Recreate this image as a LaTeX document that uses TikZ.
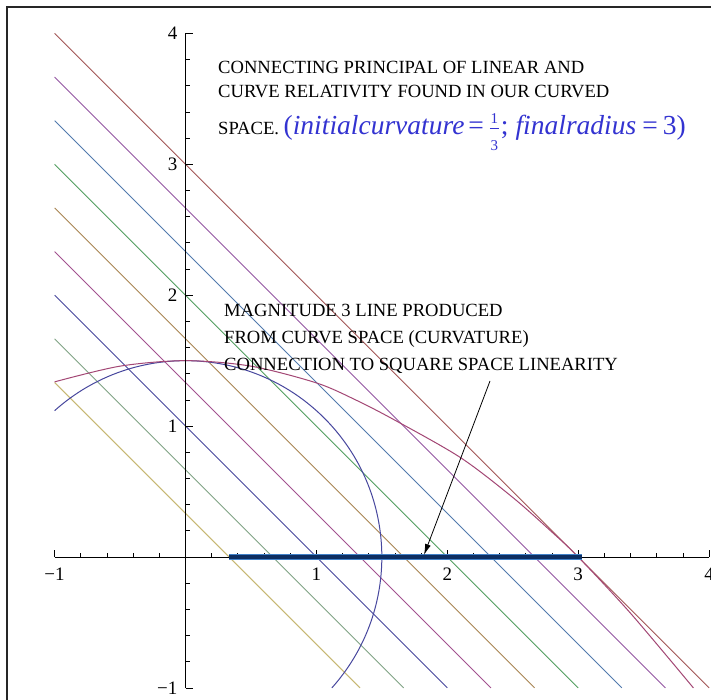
\documentclass[tikz,border=0pt]{standalone}
\usepackage{fontspec}
\setmainfont{Liberation Serif}[ItalicFont={Liberation Serif Italic}]
\usetikzlibrary{arrows.meta}
\definecolor{lnA}{rgb}{0.78,0.72,0.45}
\definecolor{lnB}{rgb}{0.50,0.64,0.52}
\definecolor{lnC}{rgb}{0.28,0.28,0.62}
\definecolor{lnD}{rgb}{0.64,0.32,0.56}
\definecolor{lnE}{rgb}{0.66,0.52,0.32}
\definecolor{lnF}{rgb}{0.32,0.62,0.38}
\definecolor{lnG}{rgb}{0.32,0.48,0.68}
\definecolor{lnH}{rgb}{0.58,0.34,0.64}
\definecolor{lnI}{rgb}{0.64,0.34,0.34}
\definecolor{rcol}{rgb}{0.64,0.28,0.46}
\definecolor{bcol}{rgb}{0.28,0.28,0.62}
\definecolor{mblue}{rgb}{0.2,0.2,0.82}
\definecolor{thickout}{rgb}{0.25,0.5,0.78}
\definecolor{thickin}{rgb}{0.05,0.18,0.38}
\newcommand{\handfrac}[2]{\makebox[9pt]{\rlap{\raisebox{11pt}{\makebox[9pt]{\fontsize{15}{15}\selectfont #1}}}\rlap{\raisebox{-16pt}{\makebox[9pt]{\fontsize{15}{15}\selectfont #2}}}\rule[6pt]{9pt}{0.8pt}}}
\tikzset{
  diag/.style={line width=0.9pt},
  rcurve/.style={line width=1pt, rcol},
  bcircle/.style={line width=1pt, bcol},
  axisline/.style={line width=0.8pt, black},
  ticklab/.style={font=\fontsize{19}{19}\selectfont, inner sep=0pt},
  caption/.style={font=\fontsize{18.6}{24}\selectfont, inner sep=0pt, anchor=base west, text=black},
  pointer/.style={line width=0.8pt, black, -{Latex[length=11pt,width=6pt]}},
  frameline/.style={line width=2.6pt, black!85}
}
\begin{document}
\begin{tikzpicture}[x=1pt,y=-1pt]
\useasboundingbox (0,0) rectangle (711,700);
\clip (0,0) rectangle (711,700);
\fill[white] (0,0) rectangle (711,700);
\begin{scope}[shift={(185.5pt,-557pt)}, x=130.9pt, y=130.9pt]
  % diagonal lines x+y=c
  \foreach \c/\col in {0.3333/lnA, 0.6667/lnB, 1/lnC, 1.3333/lnD, 1.6667/lnE, 2/lnF, 2.3333/lnG, 2.6667/lnH, 3/lnI}
    \draw[diag, \col] (-1,{\c+1}) -- ({\c+1},-1);
  % circle of radius 1.5
  \draw[bcircle] (131.81:1.5) arc[start angle=131.81, end angle=-41.81, radius=1.5];
  % curve
  \draw[rcurve] plot[smooth] coordinates {(-1,1.338) (-0.5,1.458) (0,1.5) (0.5,1.458) (1,1.33) (1.3,1.2) (1.6,1.045) (2.1,0.76) (2.5,0.455) (2.8,0.19) (3,0) (3.4,-0.43) (3.88,-1)};
  % axes
  \draw[axisline] (-1,0) -- (4,0);
  \draw[axisline] (0,-1) -- (0,4);
  \foreach \t in {-1,1,2,3,4} {
    \draw[axisline] (\t,0) -- ++(0pt,7pt);
    \draw[axisline] (0,\t) -- ++(7pt,0pt);
  }
  \foreach \k in {-1,0,1,2,3} \foreach \m in {1,2,3,4} {
    \draw[axisline] ({\k+\m/5},0) -- ++(0pt,4.5pt);
    \draw[axisline] (0,{\k+\m/5}) -- ++(4.5pt,0pt);
  }
  % thick magnitude-3 line
  \draw[line width=6pt, thickout] (0.3333,0) -- (3.03,0);
  \draw[line width=3.8pt, thickin] (0.3333,0) -- (3.03,0);
  % tick labels
  \node[ticklab] (xm1) at (-1,-0.13) {−1};
  \node[ticklab] (x1) at (1,-0.13) {1};
  \node[ticklab] (x2) at (2,-0.13) {2};
  \node[ticklab] (x3) at (3,-0.13) {3};
  \node[ticklab] (x4) at (4,-0.13) {4};
  \node[ticklab, anchor=east] (y4) at (-0.06,4) {4};
  \node[ticklab, anchor=east] (y3) at (-0.06,3) {3};
  \node[ticklab, anchor=east] (y2) at (-0.06,2) {2};
  \node[ticklab, anchor=east] (y1) at (-0.06,1) {1};
  \node[ticklab, anchor=east] (ym1) at (-0.06,-1) {−1};
\end{scope}
% captions
\node[caption] (t1a) at (218,73.3) {CONNECTING PRINCIPAL OF LINEAR AND};
\node[caption] (t1b) at (218,97.3) {CURVE RELATIVITY FOUND IN OUR CURVED};
\node[caption] (t1c) at (218,134.5) {SPACE. {\color{mblue}\fontsize{27.5}{27.5}\selectfont (\textit{initialcurvature}\hspace{4pt}=\hspace{6pt}\handfrac{1}{3}\hspace{2pt};\hspace{7pt}\textit{finalradius}\hspace{6pt}=\hspace{5pt}3)}};
\node[caption] (t2a) at (224,316.7) {MAGNITUDE 3 LINE PRODUCED};
\node[caption] (t2b) at (224,343.3) {FROM CURVE SPACE (CURVATURE)};
\node[caption] (t2c) at (224,370) {CONNECTION TO SQUARE SPACE LINEARITY};
% pointer
\coordinate (arrS) at (490,381);
\coordinate (arrT) at (424,555);
\draw[pointer] (arrS) -- (arrT);
% frame
\draw[frameline] (7,701) -- (7,7) -- (712,7);
\end{tikzpicture}
\end{document}
